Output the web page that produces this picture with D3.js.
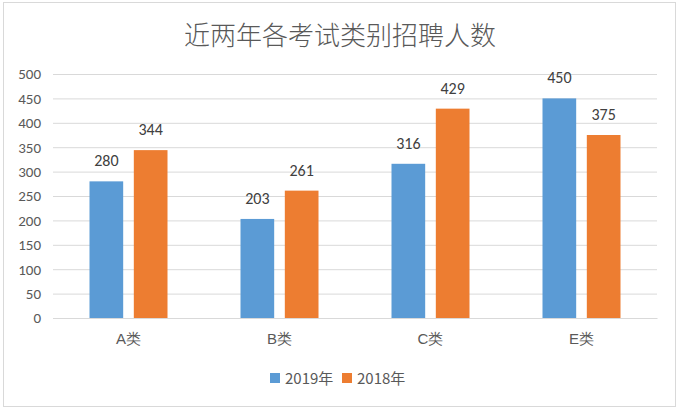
<!DOCTYPE html>
<html><head><meta charset="utf-8">
<script src="https://cdn.jsdelivr.net/npm/d3@7"></script>
<style>
body{margin:0;background:#fff;}
svg{display:block;font-family:"Microsoft YaHei","Noto Sans CJK SC",sans-serif;}
</style></head>
<body><svg id="c" width="679" height="409"></svg>
<script>
const categories = ["A类","B类","C类","E类"];
const seriesNames = ["2019年","2018年"];
const values2019 = [280,203,316,450];
const values2018 = [344,261,429,375];
const yTicks = [0,50,100,150,200,250,300,350,400,450,500];
const colors = ["#5B9BD5","#ED7D31"];

const svg = d3.select("#c");
svg.append("rect").attr("x",3.5).attr("y",2.5).attr("width",672).attr("height",404)
  .attr("fill","#fff").attr("stroke","#D9D9D9");

const mLeft=53,mRight=657,mTop=74,mBottom=318;
const x = d3.scaleBand().domain(categories).range([mLeft,mRight]);
const y = d3.scaleLinear().domain([0,500]).range([mBottom,mTop]);
const inner = d3.scaleBand().domain(seriesNames).range([0,78]).paddingInner(0.24);

svg.append("text").attr("x",340).attr("y",45).attr("text-anchor","middle")
  .attr("font-size",26).attr("font-weight",300).attr("fill","#595959").text("近两年各考试类别招聘人数");

const yAxis = svg.append("g").attr("transform",`translate(${mLeft},0)`)
  .call(d3.axisLeft(y).tickValues(yTicks).tickSize(-(mRight-mLeft)).tickPadding(12));
yAxis.select(".domain").remove();
yAxis.selectAll(".tick line").attr("stroke","#D9D9D9");
yAxis.selectAll(".tick text").attr("font-size",15).attr("fill","#595959")
  .attr("font-family","Calibri,Carlito,'Liberation Sans',sans-serif");

const xAxis = svg.append("g").attr("transform",`translate(0,${mBottom})`)
  .call(d3.axisBottom(x).tickSize(0).tickPadding(15));
xAxis.select(".domain").attr("stroke","#D9D9D9");
xAxis.selectAll(".tick text").attr("font-size",15).attr("fill","#595959");

const data = [values2019, values2018];
data.forEach((vals,si)=>{
  const g = svg.append("g");
  g.selectAll("rect").data(vals).join("rect")
    .attr("x",(d,i)=>x(categories[i])+x.bandwidth()/2-39+inner(seriesNames[si]))
    .attr("y",d=>y(d)).attr("width",inner.bandwidth()).attr("height",d=>mBottom-y(d))
    .attr("fill",colors[si]);
  g.selectAll("text").data(vals).join("text")
    .attr("x",(d,i)=>x(categories[i])+x.bandwidth()/2-39+inner(seriesNames[si])+inner.bandwidth()/2)
    .attr("y",d=>y(d)-15).attr("text-anchor","middle").attr("font-size",16)
    .attr("fill","#404040").attr("font-family","Calibri,Carlito,'Liberation Sans',sans-serif")
    .text(d=>d);
});

const leg = svg.append("g");
const legX=[270,342];
seriesNames.forEach((s,i)=>{
  leg.append("rect").attr("x",legX[i]).attr("y",373).attr("width",10).attr("height",10).attr("fill",colors[i]);
  leg.append("text").attr("x",legX[i]+15).attr("y",384).attr("font-size",15).attr("fill","#595959").text(s);
});
</script></body></html>
